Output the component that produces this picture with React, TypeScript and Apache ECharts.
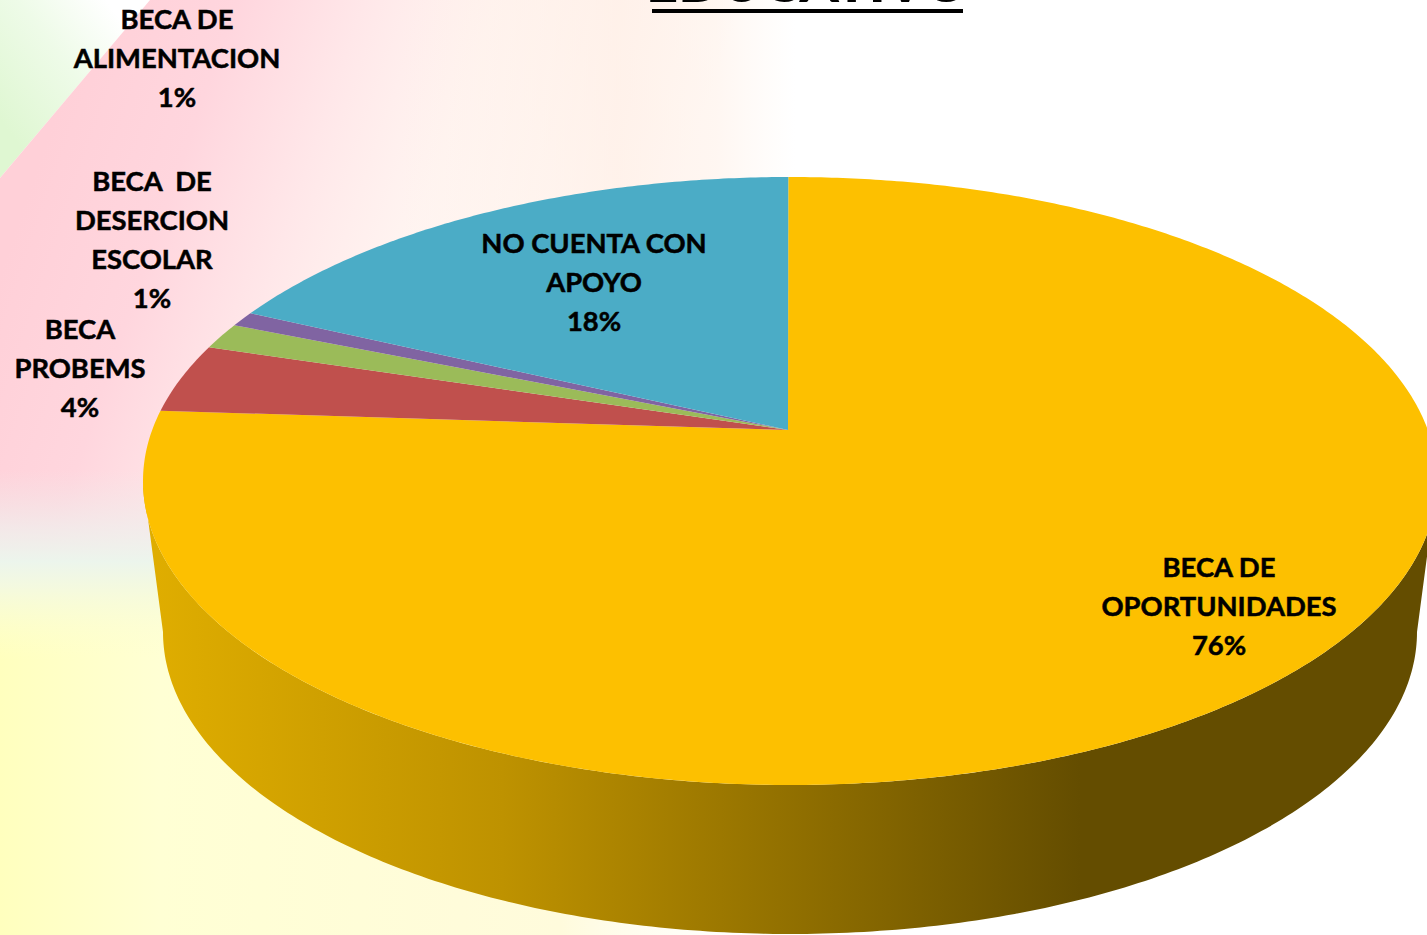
import React, { useEffect, useRef } from "react";
import * as echarts from "echarts";

const categories = [
  "BECA DE\nOPORTUNIDADES",
  "BECA\nPROBEMS",
  "BECA  DE\nDESERCION\nESCOLAR",
  "BECA DE\nALIMENTACION",
  "NO CUENTA CON\nAPOYO",
];
const values = [76.1, 3.7, 1.4, 0.8, 18.0];
const sliceColors = ["#FDC000", "#C0504D", "#9BBB59", "#8064A2", "#4BACC6"];
const titleText = "EDUCATIVO";

const W = 1427;
const H = 935;
const FONT = "Lato, Carlito, sans-serif";
const labelAnchors = [
  [1219, 605],
  [80, 367],
  [152, 238.5],
  [177, 57],
  [594, 281],
];

// Perspective projection of the unit disc on to the pie's top face
const apexX = 788, apexY = 430;
const rimCx = 790, rimRx = 647, rimTop = 177, rimBottom = 785;
const K = (2 * apexY - rimTop - rimBottom) / (rimBottom - rimTop);
const A = rimBottom * (1 + K) - apexY;
const C = rimRx * Math.sqrt(1 - K * K);
const START = -Math.asin((rimCx - apexX) / C);
const base = { cx: 790, cy: 632, rx: 627, ry: 302 };
const frontFrom = Math.acos(-((481 - apexY) / (A - 481 * K)));
const frontTo = 2 * Math.PI - frontFrom;

function rim(theta: number): number[] {
  const px = Math.sin(theta);
  const py = -Math.cos(theta);
  const w = 1 + K * py;
  return [rimCx + (C * px) / w, (A * py + apexY) / w];
}
function rimPoints(a: number, b: number): number[][] {
  const n = Math.max(2, Math.ceil(Math.abs(b - a) / 0.01));
  const out: number[][] = [];
  for (let i = 0; i <= n; i++) out.push(rim(a + ((b - a) * i) / n));
  return out;
}
const total = values.reduce((s, v) => s + v, 0);
function sliceRange(i: number): [number, number] {
  const before = values.slice(0, i).reduce((s, v) => s + v, 0);
  return [
    START + (before / total) * Math.PI * 2,
    START + ((before + values[i]) / total) * Math.PI * 2,
  ];
}
function basePoint(theta: number): number[] {
  const f = (theta - frontFrom) / (frontTo - frontFrom);
  const phi = Math.PI * f;
  return [base.cx + base.rx * Math.cos(phi), base.cy + base.ry * Math.sin(phi)];
}

function wallItem(params: any) {
  const [a, b] = sliceRange(params.dataIndex);
  const from = Math.max(a, frontFrom);
  const to = Math.min(b, frontTo);
  if (to <= from) return { type: "group", children: [] };
  const top = rimPoints(from, to);
  const bottom: number[][] = [];
  const n = 240;
  for (let i = n; i >= 0; i--) bottom.push(basePoint(from + ((to - from) * i) / n));
  return {
    type: "polygon",
    shape: { points: top.concat(bottom) },
    style: {
      fill: {
        type: "linear",
        global: true,
        x: 143,
        y: 0,
        x2: 1427,
        y2: 0,
        colorStops: [
          { offset: 0, color: "#E0AE00" },
          { offset: 0.28, color: "#BE9200" },
          { offset: 0.73, color: "#644D00" },
          { offset: 1, color: "#644D00" },
        ],
      },
    },
  };
}

function topItem(params: any) {
  const i = params.dataIndex;
  const [a, b] = sliceRange(i);
  const pts = [[apexX, apexY] as number[]].concat(rimPoints(a, b));
  return {
    type: "polygon",
    shape: { points: pts },
    style: { fill: sliceColors[i] },
  };
}

function labelItem(params: any) {
  const i = params.dataIndex;
  const pct = Math.round((values[i] / total) * 100);
  return {
    type: "text",
    style: {
      x: labelAnchors[i][0],
      y: labelAnchors[i][1],
      text: `${categories[i]}\n${pct}%`,
      align: "center",
      verticalAlign: "middle",
      textAlign: "center",
      textVerticalAlign: "middle",
      fontFamily: FONT,
      fontWeight: "bold",
      fontSize: 27.4,
      lineHeight: 39,
      fill: "#000000",
      stroke: "#000000",
      lineWidth: 0.5,
    },
  };
}

function linear(x: number, y: number, x2: number, y2: number, stops: [number, string][]) {
  return {
    type: "linear",
    global: true,
    x,
    y,
    x2,
    y2,
    colorStops: stops.map(([offset, color]) => ({ offset, color })),
  };
}

const background: any[] = [
  { type: "rect", shape: { x: 0, y: 0, width: W, height: H }, style: { fill: "#FFFFFF" }, silent: true },
  {
    type: "rect",
    shape: { x: 0, y: 560, width: 900, height: 375 },
    style: {
      fill: linear(0, 0, 800, 0, [
        [0, "rgba(255,255,190,1)"],
        [0.2, "rgba(255,255,212,1)"],
        [0.7, "rgba(255,251,220,1)"],
        [1, "rgba(255,255,255,0)"],
      ]),
    },
    silent: true,
  },
  {
    type: "polygon",
    shape: { points: [[0, 178], [150, 0], [0, 0]] },
    style: {
      fill: linear(0, 120, 125, 25, [
        [0, "#DFF7D2"],
        [0.55, "#EEFBE8"],
        [1, "#FFFFFF"],
      ]),
    },
    silent: true,
  },
  {
    type: "polygon",
    shape: { points: [[0, 178], [150, 0], [800, 0], [800, 560], [0, 560]] },
    style: {
      fill: linear(60, 100, 640, 300, [
        [0, "rgba(255,208,216,1)"],
        [0.22, "rgba(255,214,222,1)"],
        [0.42, "rgba(255,230,232,0.95)"],
        [0.62, "rgba(255,240,235,0.7)"],
        [1, "rgba(255,240,230,0)"],
      ]),
    },
    silent: true,
  },
  {
    type: "rect",
    shape: { x: 400, y: 0, width: 395, height: 250 },
    style: {
      fill: linear(400, 0, 795, 0, [
        [0, "rgba(255,236,226,0)"],
        [0.55, "rgba(255,236,226,0.65)"],
        [0.8, "rgba(255,238,228,0.5)"],
        [1, "rgba(255,240,230,0)"],
      ]),
    },
    silent: true,
  },
  {
    type: "rect",
    shape: { x: 0, y: 470, width: 800, height: 190 },
    style: {
      fill: linear(0, 470, 0, 660, [
        [0, "rgba(240,232,232,0)"],
        [0.3, "rgba(240,238,236,0.75)"],
        [0.48, "rgba(236,245,236,1)"],
        [0.6, "rgba(243,249,225,1)"],
        [1, "rgba(255,255,205,0)"],
      ]),
    },
    silent: true,
  },
  {
    type: "rect",
    shape: { x: 652, y: 9, width: 311, height: 4 },
    style: { fill: "#000000" },
    silent: true,
  },
  {
    type: "text",
    x: 807.5,
    y: 8,
    silent: true,
    style: {
      text: titleText,
      align: "center",
      verticalAlign: "bottom",
      textAlign: "center",
      textVerticalAlign: "bottom",
      fontFamily: FONT,
      fontWeight: 900,
      fontSize: 56,
      lineHeight: 56,
      fill: "#000000",
    },
  },
];

export default function App() {
  const ref = useRef<HTMLDivElement>(null);
  useEffect(() => {
    document.body.style.margin = "0";
    const chart = echarts.init(ref.current!, undefined, { renderer: "svg", width: W, height: H });
    chart.setOption({
      animation: false,
      backgroundColor: "#FFFFFF",
      graphic: background,
      tooltip: { show: false },
      series: [
        { type: "custom", coordinateSystem: "none", z: 2, silent: true, data: values, renderItem: wallItem },
        { type: "custom", coordinateSystem: "none", z: 3, silent: true, data: values, renderItem: topItem },
        { type: "custom", coordinateSystem: "none", z: 4, silent: true, data: values, renderItem: labelItem },
      ],
    });
    return () => chart.dispose();
  }, []);
  return <div ref={ref} style={{ position: "absolute", left: 0, top: 0, width: W, height: H, overflow: "hidden" }} />;
}
